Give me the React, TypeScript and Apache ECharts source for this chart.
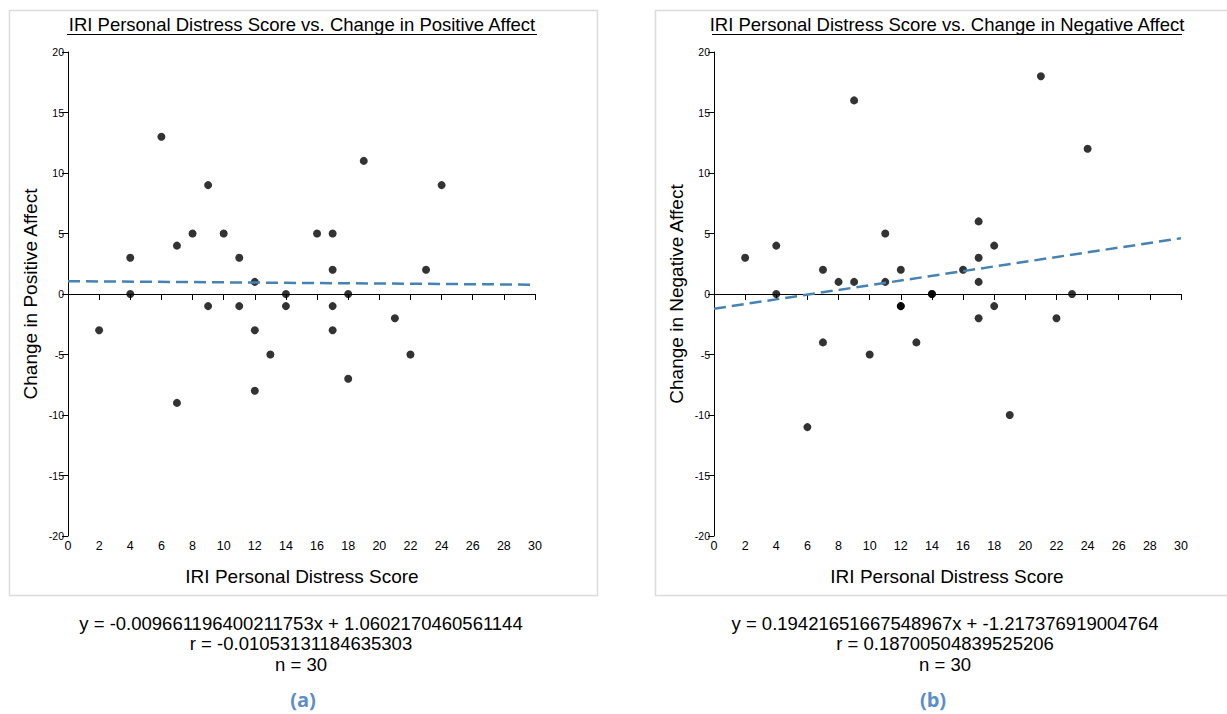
import React, { useEffect, useRef } from "react";
import * as echarts from "echarts";

// ---- data ----
const distressScores = [2, 4, 4, 6, 7, 7, 8, 9, 9, 10, 11, 11, 12, 12, 12, 13, 14, 14, 16, 17, 17, 17, 17, 18, 18, 19, 21, 22, 23, 24];
const positiveChange = [-3, 3, 0, 13, 4, -9, 5, 9, -1, 5, 3, -1, 1, -3, -8, -5, 0, -1, 5, 5, 2, -1, -3, 0, -7, 11, -2, -5, 2, 9];
const negativeChange = [3, 4, 0, -11, 2, -4, 1, 16, 1, -5, 5, 1, 2, -1, -1, -4, 0, 0, 2, 6, 3, 1, -2, 4, -1, -10, 18, -2, 0, 12];
const xTickRange = [0, 30];
const yTickRange = [-20, 20];
const posSlope = -0.009661196400211753;
const posIntercept = 1.0602170460561144;
const negSlope = 0.19421651667548967;
const negIntercept = -1.217376919004764;
const titles = [
  "IRI Personal Distress Score vs. Change in Positive Affect",
  "IRI Personal Distress Score vs. Change in Negative Affect",
];
const yNames = ["Change in Positive Affect", "Change in Negative Affect"];
const xName = "IRI Personal Distress Score";
const statLines = [
  ["y = -0.009661196400211753x + 1.0602170460561144", "r = -0.01053131184635303", "n = 30"],
  ["y = 0.19421651667548967x + -1.217376919004764", "r = 0.18700504839525206", "n = 30"],
];
const panelLabels = ["(a)", "(b)"];

const FONT = "'Liberation Sans', Arial, Helvetica, sans-serif";

export default function App() {
  const ref = useRef<HTMLDivElement>(null);
  useEffect(() => {
    if (!ref.current) return;
    const chart = echarts.init(ref.current, undefined, { renderer: "svg" });
    const gridLefts = [68, 714];
    const gridWidth = 467;
    const boxes = [
      { x: 9, w: 588 },
      { x: 655, w: 588 },
    ];
    const titleCenters = [302, 947];
    const plotCenters = [302, 947];
    const textCenters = [301, 945];

    const pts = (ys: number[]) => distressScores.map((x, i) => [x, ys[i]]);
    const regLine = (m: number, b: number) => [
      [xTickRange[0], b + m * xTickRange[0]],
      [xTickRange[1], b + m * xTickRange[1]],
    ];

    const graphic: any[] = [];
    [0, 1].forEach((p) => {
      graphic.push({
        type: "rect",
        shape: { x: boxes[p].x + 0.5, y: 10.5, width: boxes[p].w, height: 585 },
        style: { fill: "none", stroke: "#dcdcdc", lineWidth: 1.5 },
        silent: true,
      });
      graphic.push({
        type: "text",
        x: titleCenters[p],
        y: 24,
        style: {
          text: titles[p],
          font: `18.5px ${FONT}`,
          fill: "#000",
          textAlign: "center",
          textVerticalAlign: "middle",
        },
      });
      graphic.push({
        type: "line",
        shape: { x1: titleCenters[p] - 235, y1: 34.5, x2: titleCenters[p] + 235, y2: 34.5 },
        style: { stroke: "#000", lineWidth: 1 },
      });
      graphic.push({
        type: "text",
        x: plotCenters[p],
        y: 576,
        style: {
          text: xName,
          font: `19px ${FONT}`,
          fill: "#000",
          textAlign: "center",
          textVerticalAlign: "middle",
        },
      });
      graphic.push({
        type: "text",
        x: gridLefts[p] - 38,
        y: 294,
        rotation: Math.PI / 2,
        style: {
          text: yNames[p],
          font: `19px ${FONT}`,
          fill: "#000",
          textAlign: "center",
          textVerticalAlign: "middle",
        },
      });
      statLines[p].forEach((s, i) => {
        graphic.push({
          type: "text",
          x: textCenters[p],
          y: 623 + i * 20.5,
          style: {
            text: s,
            font: `18.5px ${FONT}`,
            fill: "#000",
            textAlign: "center",
            textVerticalAlign: "middle",
          },
        });
      });
      graphic.push({
        type: "text",
        x: [303, 933][p],
        y: 699,
        style: {
          text: panelLabels[p],
          font: `bold 20px 'Open Sans', sans-serif`,
          fill: "#5b8dc9",
          textAlign: "center",
          textVerticalAlign: "middle",
        },
      });
    });

    const axisCommon = {
      type: "value",
      splitLine: { show: false },
      axisLine: { show: true, lineStyle: { color: "#000", width: 1 } },
      axisTick: { show: true, length: 6, lineStyle: { color: "#000" } },
    };

    chart.setOption({
      animation: false,
      backgroundColor: "#fff",
      grid: [0, 1].map((p) => ({
        left: gridLefts[p],
        top: 52,
        width: gridWidth,
        height: 484,
      })),
      xAxis: [0, 1].map((p) => ({
        ...axisCommon,
        gridIndex: p,
        min: xTickRange[0],
        max: xTickRange[1],
        interval: 2,
        axisLine: { ...axisCommon.axisLine, onZero: true },
        axisLabel: { fontSize: 12.5, color: "#000", fontFamily: FONT, margin: 3 },
      })),
      yAxis: [0, 1].map((p) => ({
        ...axisCommon,
        gridIndex: p,
        min: yTickRange[0],
        max: yTickRange[1],
        interval: 5,
        axisLabel: { fontSize: 10.5, color: "#000", fontFamily: FONT, margin: 4 },
      })),
      series: [
        {
          type: "line",
          xAxisIndex: 0,
          yAxisIndex: 0,
          data: regLine(posSlope, posIntercept),
          symbol: "none",
          lineStyle: { color: "#4682b4", width: 2.5, type: [12, 6] },
          silent: true,
        },
        {
          type: "scatter",
          xAxisIndex: 0,
          yAxisIndex: 0,
          data: pts(positiveChange),
          symbolSize: 8,
          itemStyle: { color: "#000" },
        },
        {
          type: "line",
          xAxisIndex: 1,
          yAxisIndex: 1,
          data: regLine(negSlope, negIntercept),
          symbol: "none",
          lineStyle: { color: "#4682b4", width: 2.5, type: [12, 6] },
          silent: true,
        },
        {
          type: "scatter",
          xAxisIndex: 1,
          yAxisIndex: 1,
          data: pts(negativeChange),
          symbolSize: 8,
          itemStyle: { color: "#000" },
        },
      ],
      graphic,
    });
    return () => chart.dispose();
  }, []);
  return (
    <div
      ref={ref}
      style={{ position: "fixed", left: 0, top: 0, width: 1227, height: 714 }}
    />
  );
}
